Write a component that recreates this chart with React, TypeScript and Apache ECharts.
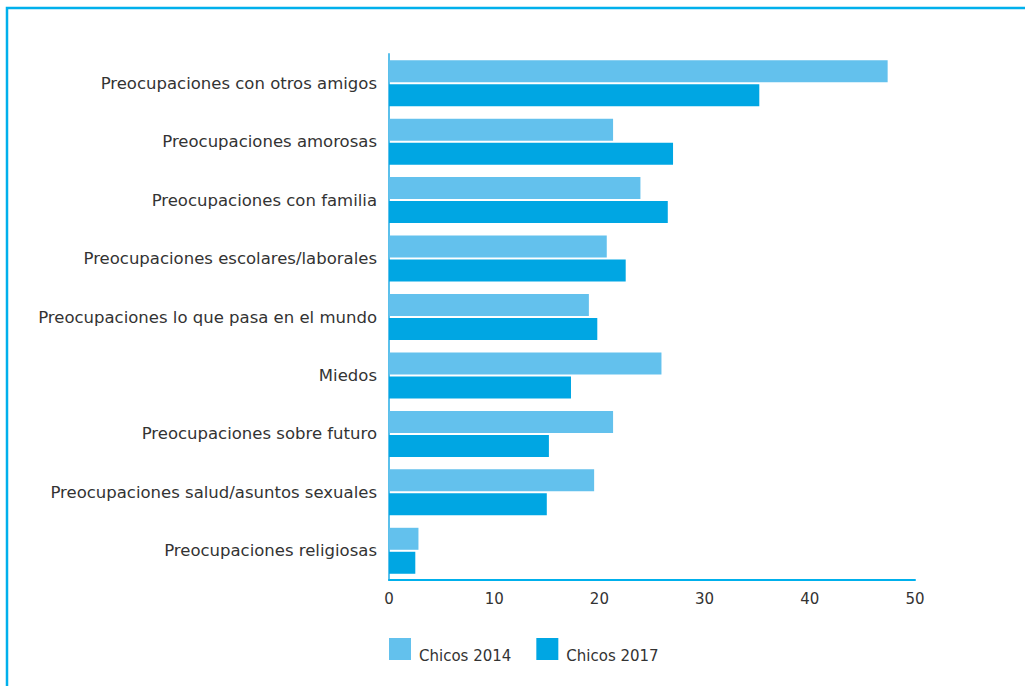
import React, { useEffect, useRef } from "react";
import * as echarts from "echarts";

const categories = [
  "Preocupaciones con otros amigos",
  "Preocupaciones amorosas",
  "Preocupaciones con familia",
  "Preocupaciones escolares/laborales",
  "Preocupaciones lo que pasa en el mundo",
  "Miedos",
  "Preocupaciones sobre futuro",
  "Preocupaciones salud/asuntos sexuales",
  "Preocupaciones religiosas",
];
const chicos2014 = [47.4, 21.3, 23.9, 20.7, 19.0, 25.9, 21.3, 19.5, 2.8];
const chicos2017 = [35.2, 27.0, 26.5, 22.5, 19.8, 17.3, 15.2, 15.0, 2.5];
const seriesNames = ["Chicos 2014", "Chicos 2017"];

export default function App() {
  const ref = useRef<HTMLDivElement>(null);
  useEffect(() => {
    document.body.style.margin = "0";
    const chart = echarts.init(ref.current!, null, { renderer: "svg" });
    const font = "'DejaVu Sans ExtraLight', 'DejaVu Sans', sans-serif";
    chart.setOption({
      animation: false,
      textStyle: { fontFamily: font },
      graphic: [
        {
          type: "rect",
          shape: { x: 7, y: 8, width: 1100, height: 800 },
          style: { fill: "none", stroke: "#00b0ec", lineWidth: 2.5 },
        },
      ],
      grid: { left: 389, right: 110, top: 54, height: 526, containLabel: false },
      legend: {
        left: 389,
        top: 638,
        padding: 0,
        icon: "rect",
        itemWidth: 22,
        itemHeight: 22,
        itemGap: 25,
        data: seriesNames,
        formatter: "{a|{name}}",
        textStyle: {
          fontSize: 15,
          color: "#333",
          fontFamily: font,
          rich: {
            a: { fontSize: 15, color: "#333", fontFamily: font, padding: [14, 0, 0, 3] },
          },
        },
      },
      xAxis: {
        type: "value",
        min: 0,
        max: 50,
        interval: 10,
        splitLine: { show: false },
        axisTick: { show: false },
        axisLine: { show: true, lineStyle: { color: "#00b0ec", width: 2 } },
        axisLabel: { color: "#333", fontSize: 15, margin: 11, fontFamily: font },
      },
      yAxis: {
        type: "category",
        inverse: true,
        data: categories,
        axisTick: { show: false },
        axisLine: { show: true, lineStyle: { color: "#5bc0eb", width: 2 } },
        axisLabel: { color: "#333", fontSize: 16.5, margin: 12, fontFamily: font },
      },
      series: [
        {
          name: seriesNames[0],
          type: "bar",
          data: chicos2014,
          barWidth: 22,
          barGap: "9%",
          itemStyle: { color: "#63c1ed" },
        },
        {
          name: seriesNames[1],
          type: "bar",
          data: chicos2017,
          barWidth: 22,
          barGap: "9%",
          itemStyle: { color: "#00a6e3" },
        },
      ],
    });
    return () => chart.dispose();
  }, []);
  return <div ref={ref} style={{ width: 1025, height: 686 }} />;
}
